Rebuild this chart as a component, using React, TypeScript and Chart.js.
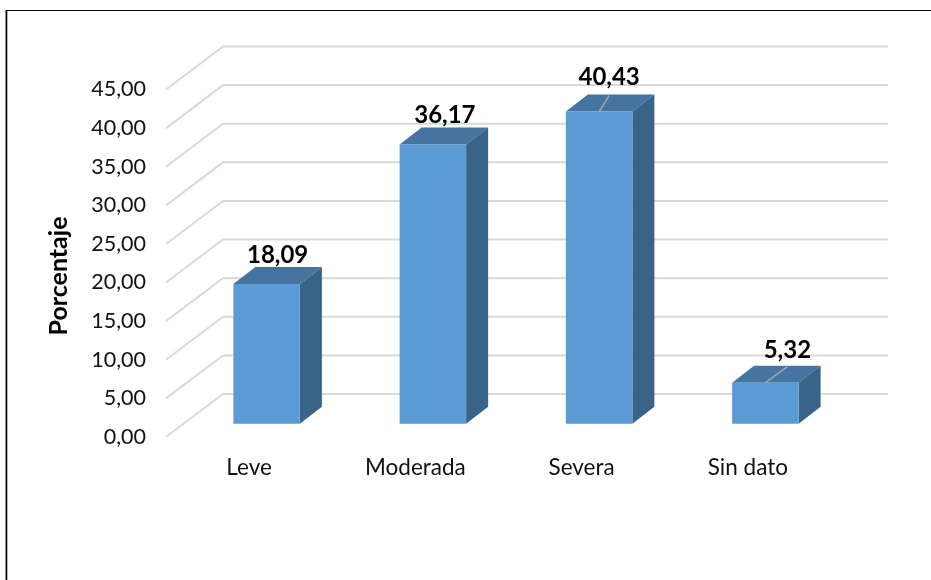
import React, { useEffect, useRef } from "react";
import { Chart, registerables } from "chart.js";

Chart.register(...registerables);

const categories = ["Leve", "Moderada", "Severa", "Sin dato"];
const percentages = [18.09, 36.17, 40.43, 5.32];
const valueTicks = [0, 5, 10, 15, 20, 25, 30, 35, 40, 45];

// Depth of the plot floor, and the part of it where the bars stand.
const WALL_DX = 57;
const WALL_DY = -43;
const BAR_DX = 17.5;
const BAR_DY = -13.2;
const BAR_DEPTH_DX = 22;
const BAR_DEPTH_DY = -17;

// Per-bar nudge of the value label from the bar's top back edge, and whether it has a leader.
const labelNudge = [
  { dx: 0, dy: -12, leader: false },
  { dx: 1, dy: -12, leader: false },
  { dx: -1, dy: -17, leader: true },
  { dx: 11, dy: -15, leader: true },
];

const FONT = "Lato, Carlito, 'Open Sans', sans-serif";
const fmt = (v: number) => v.toFixed(2).replace(".", ",");

const depthPlugin = {
  id: "depth",
  beforeDatasetsDraw(chart: any) {
    const { ctx, scales, chartArea } = chart;
    ctx.save();
    ctx.strokeStyle = "#d9d9d9";
    ctx.lineWidth = 2;
    for (const v of valueTicks) {
      const y = scales.y.getPixelForValue(v);
      ctx.beginPath();
      ctx.moveTo(chartArea.left, y);
      ctx.lineTo(chartArea.left + WALL_DX, y + WALL_DY);
      ctx.lineTo(chartArea.right + WALL_DX, y + WALL_DY);
      ctx.stroke();
    }
    ctx.restore();
  },
  beforeDatasetDraw(chart: any, args: any) {
    const { ctx } = chart;
    const meta = chart.getDatasetMeta(args.index);
    ctx.save();
    ctx.translate(BAR_DX, BAR_DY);
    for (const bar of meta.data) {
      const { x, y, base, width } = bar.getProps(["x", "y", "base", "width"], true);
      const l = x - width / 2;
      const r = x + width / 2;
      ctx.fillStyle = "#44749f";
      ctx.beginPath();
      ctx.moveTo(l, y);
      ctx.lineTo(l + BAR_DEPTH_DX, y + BAR_DEPTH_DY);
      ctx.lineTo(r + BAR_DEPTH_DX, y + BAR_DEPTH_DY);
      ctx.lineTo(r, y);
      ctx.closePath();
      ctx.fill();
      ctx.fillStyle = "#3a6487";
      ctx.beginPath();
      ctx.moveTo(r, y);
      ctx.lineTo(r + BAR_DEPTH_DX, y + BAR_DEPTH_DY);
      ctx.lineTo(r + BAR_DEPTH_DX, base + BAR_DEPTH_DY);
      ctx.lineTo(r, base);
      ctx.closePath();
      ctx.fill();
    }
  },
  afterDatasetDraw(chart: any, args: any) {
    const { ctx } = chart;
    const meta = chart.getDatasetMeta(args.index);
    // Leader lines run from the front top edge to just under the label.
    meta.data.forEach((bar: any, i: number) => {
      const { x, y } = bar.getProps(["x", "y"], true);
      const n = labelNudge[i];
      if (!n.leader) return;
      ctx.strokeStyle = "#a6a6a6";
      ctx.lineWidth = 1.5;
      ctx.beginPath();
      ctx.moveTo(x, y);
      ctx.lineTo(x + BAR_DEPTH_DX / 2 + n.dx, y + BAR_DEPTH_DY + 1);
      ctx.stroke();
    });
    ctx.restore();

    ctx.save();
    ctx.fillStyle = "#000";
    ctx.font = `bold 24px ${FONT}`;
    ctx.textAlign = "center";
    ctx.textBaseline = "middle";
    meta.data.forEach((bar: any, i: number) => {
      const { x, y } = bar.getProps(["x", "y"], true);
      const n = labelNudge[i];
      ctx.fillText(
        fmt(percentages[i]),
        x + BAR_DX + BAR_DEPTH_DX / 2 + n.dx,
        y + BAR_DY + BAR_DEPTH_DY + n.dy
      );
    });
    ctx.restore();
  },
  afterDraw(chart: any) {
    const { ctx } = chart;
    ctx.save();
    // Sheet outline and the rotated value-axis title.
    ctx.fillStyle = "#000";
    ctx.fillRect(6, 10, 925, 1);
    ctx.fillRect(6, 10, 1, 570);
    ctx.fillStyle = "#8c8c8c";
    ctx.fillRect(5, 10, 1, 570);
    ctx.fillStyle = "#b5b5b5";
    ctx.fillRect(7, 11, 1, 569);
    ctx.translate(59, 276);
    ctx.rotate(-Math.PI / 2);
    ctx.fillStyle = "#000";
    ctx.font = `bold 25px ${FONT}`;
    ctx.textAlign = "center";
    ctx.textBaseline = "middle";
    ctx.fillText("Porcentaje", 0, 0);
    ctx.restore();
  },
};

export default function App() {
  const ref = useRef<HTMLCanvasElement>(null);
  useEffect(() => {
    document.body.style.margin = "0";
    const chart = new Chart(ref.current!, {
      type: "bar",
      data: {
        labels: categories,
        datasets: [
          {
            data: percentages,
            backgroundColor: "#5b9bd5",
            borderWidth: 0,
            barPercentage: 0.4,
            categoryPercentage: 1,
            clip: false,
          } as any,
        ],
      },
      options: {
        responsive: false,
        animation: false,
        layout: { padding: { top: 89.5, left: 0, right: 100, bottom: 0 } },
        plugins: { legend: { display: false }, tooltip: { enabled: false } },
        scales: {
          y: {
            min: 0,
            max: 45,
            afterBuildTicks(axis: any) {
              axis.ticks = valueTicks.map((value) => ({ value }));
            },
            afterFit(axis: any) {
              axis.width = 166;
            },
            grid: { display: false, drawTicks: false },
            border: { display: false },
            ticks: {
              padding: 20,
              color: "#111",
              font: { family: FONT, size: 21.5 },
              callback: (v: any) => fmt(Number(v)),
            },
          },
          x: {
            afterFit(axis: any) {
              axis.height = 143;
            },
            grid: { display: false, drawTicks: false },
            border: { display: false },
            ticks: {
              padding: 17,
              color: "#111",
              font: { family: FONT, size: 22.5 },
              maxRotation: 0,
            },
          },
        },
      },
      plugins: [depthPlugin],
    });
    return () => chart.destroy();
  }, []);
  return <canvas ref={ref} width={931} height={580} style={{ display: "block" }} />;
}
